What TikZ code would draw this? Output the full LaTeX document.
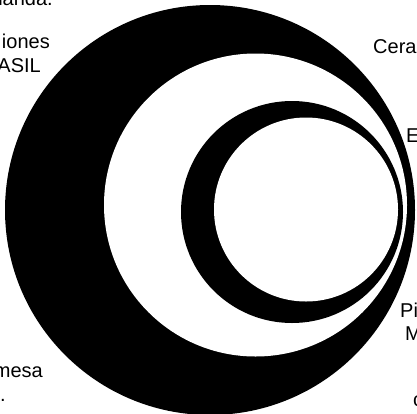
\documentclass[tikz,border=0pt]{standalone}
\usepackage{fontspec}
\setmainfont{Liberation Sans}
\begin{document}
\begin{tikzpicture}[x=1pt,y=-1pt,
  lbl/.style={inner sep=0pt,font=\fontsize{20pt}{24pt}\selectfont}]
\useasboundingbox (0,0) rectangle (417,413);
\clip (0,0) rectangle (417,413);
\fill[white] (0,0) rectangle (417,413);
% rings
\fill[black] (210,210) circle (205pt);
\fill[white] (255.5,205) circle (151.5pt);
\fill[black] (292,212) circle (111pt);
\fill[white] (306,209.5) circle (92pt);
% texts
\node[lbl,anchor=base east] (t1) at (53,5) {landa.};
\node[lbl,anchor=base east] (t2) at (50,48) {iones};
\node[lbl,anchor=base east] (t3) at (41,72) {ASIL};
\node[lbl,anchor=base east] (t4) at (43,377) {mesa};
\node[lbl,anchor=base west] (t5) at (0,401) {.};
\node[lbl,anchor=base west] (t6) at (373,53) {Cera};
\node[lbl,anchor=base west] (t7) at (406,142) {E};
\node[lbl,anchor=base west] (t8) at (400,317) {Pi};
\node[lbl,anchor=base west] (t9) at (405,340) {M};
\node[lbl,anchor=base west] (t10) at (413,406) {c};
\end{tikzpicture}
\end{document}
